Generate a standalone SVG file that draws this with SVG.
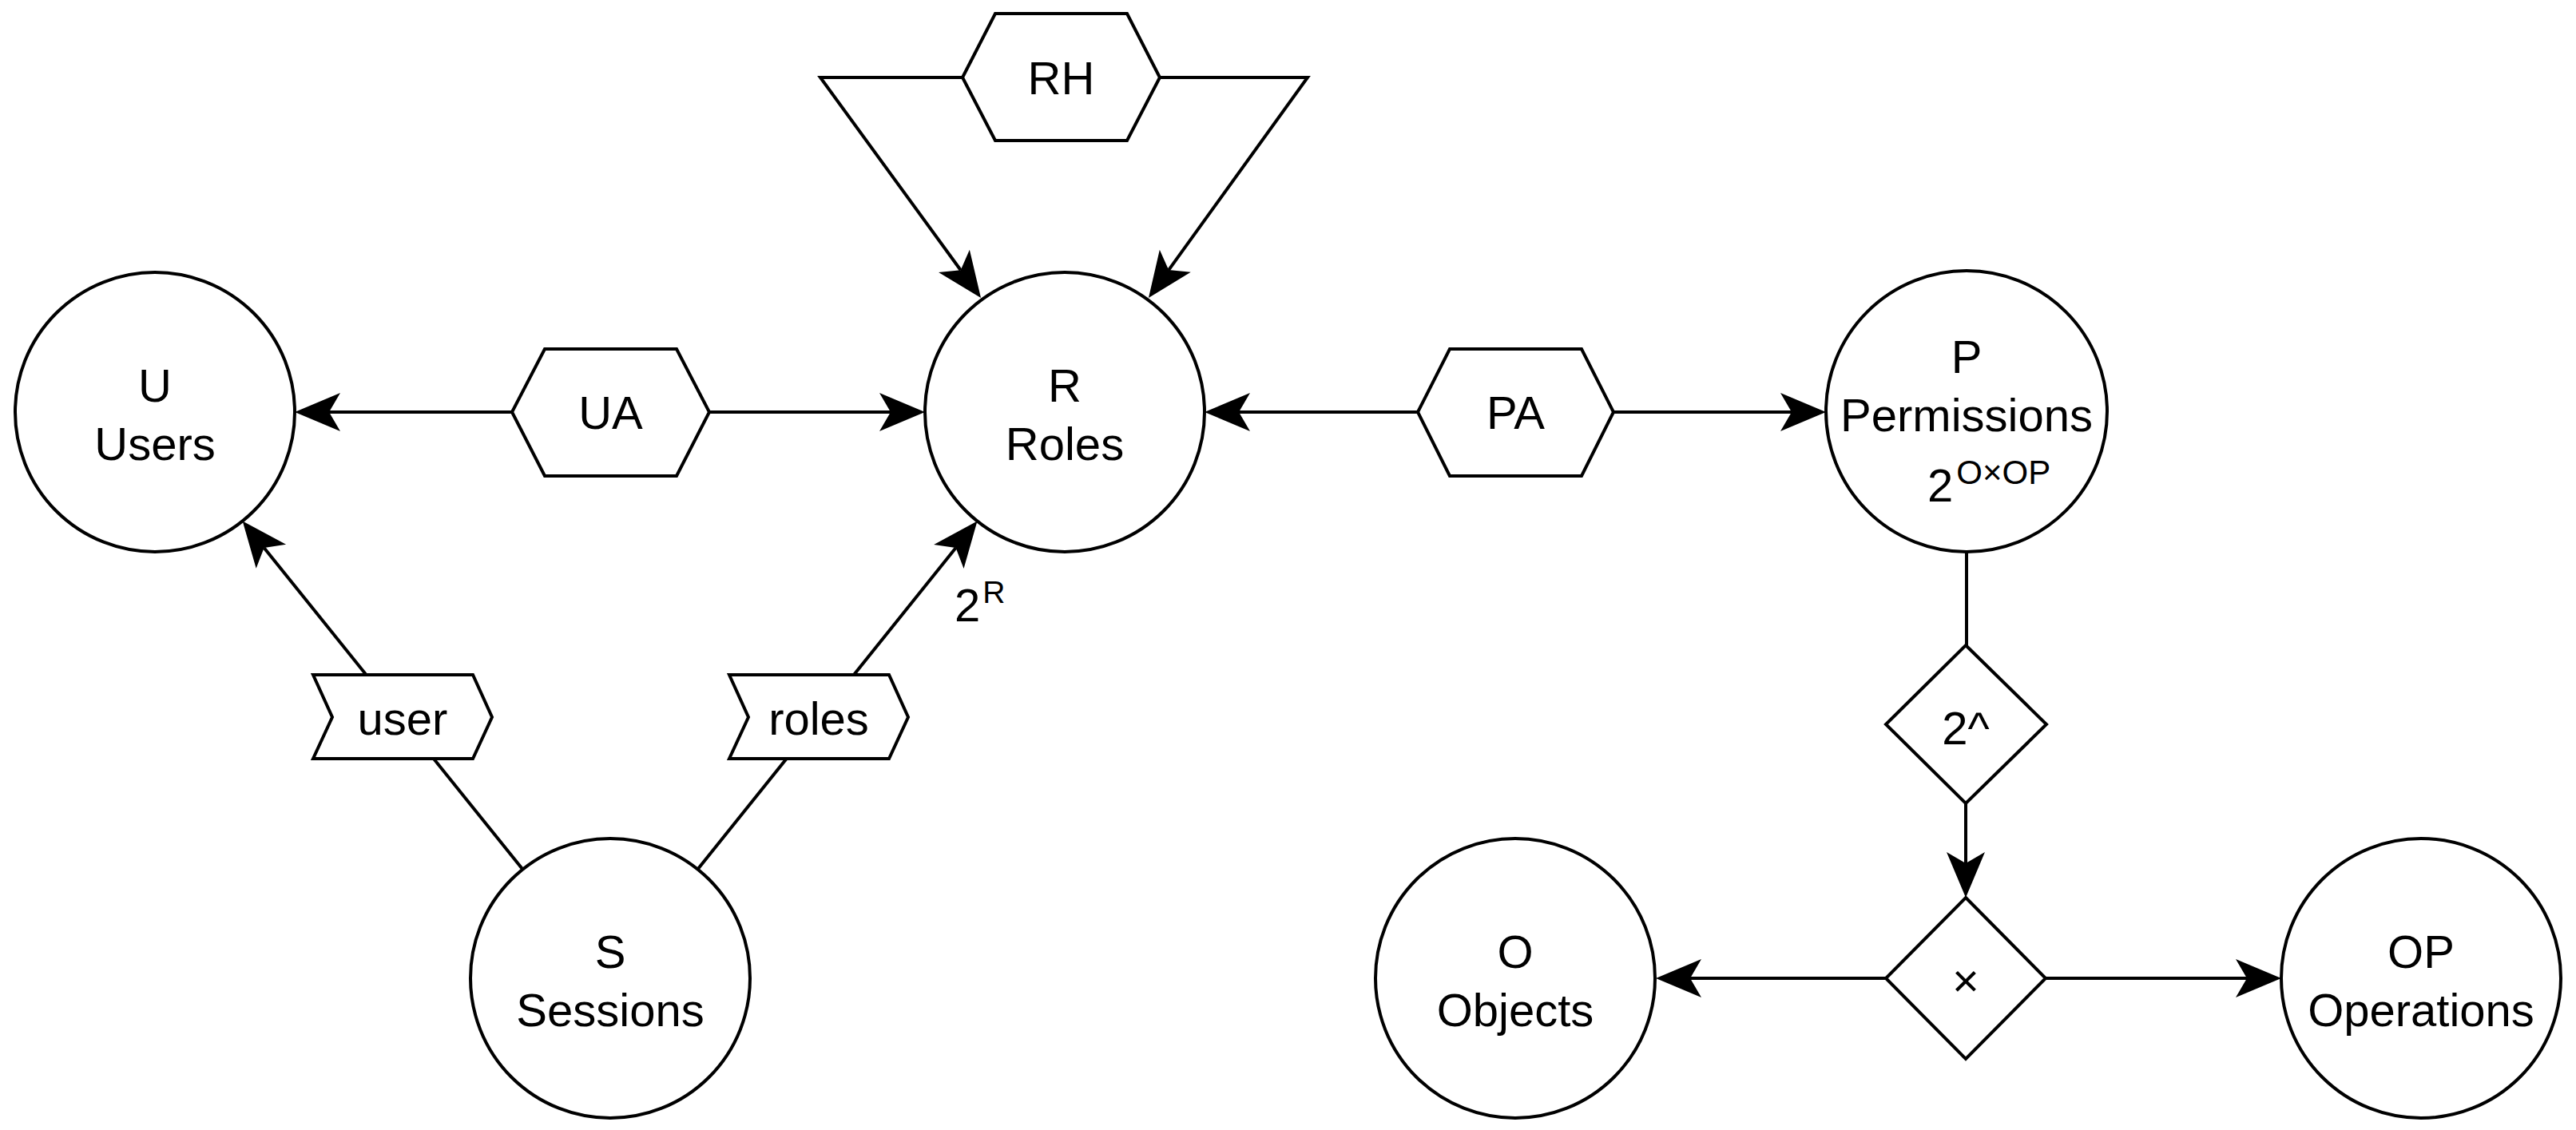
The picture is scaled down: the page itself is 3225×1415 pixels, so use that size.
<svg xmlns="http://www.w3.org/2000/svg" width="3225" height="1415" viewBox="0 0 3225 1415">
<style>
.shape{fill:#ffffff;stroke:#000000;stroke-width:4;stroke-linejoin:miter}
.edge{fill:none;stroke:#000000;stroke-width:4}
.arrow{marker-end:url(#arr)}
text{font-family:"Liberation Sans",Arial,Helvetica,sans-serif;font-size:58px;fill:#000000;text-anchor:middle}
.sup{font-size:42px}
</style>
<defs>
<marker id="arr" markerUnits="userSpaceOnUse" viewBox="-15 -25 60 50" markerWidth="60" markerHeight="50" refX="0" refY="0" orient="auto" overflow="visible">
<path d="M43,0 L-14,-24 L0,0 L-14,24 Z" fill="#000000" stroke="none"/>
</marker>
</defs>
<rect width="3225" height="1415" fill="#ffffff"/>

<g id="node-U"><circle class="shape" cx="194" cy="516" r="175"/><text x="194" y="503">U</text><text x="194" y="576">Users</text></g>
<g id="node-R"><circle class="shape" cx="1333" cy="516" r="175"/><text x="1333" y="503">R</text><text x="1333" y="576">Roles</text></g>
<g id="node-P"><circle class="shape" cx="2462" cy="515" r="176"/><text x="2462" y="467">P</text><text x="2462" y="540">Permissions</text><text x="2413" y="628" style="text-anchor:start">2<tspan class="sup" dx="4" dy="-22">O×OP</tspan></text></g>
<g id="node-S"><circle class="shape" cx="764" cy="1225" r="175"/><text x="764" y="1212">S</text><text x="764" y="1285">Sessions</text></g>
<g id="node-O"><circle class="shape" cx="1897" cy="1225" r="175"/><text x="1897" y="1212">O</text><text x="1897" y="1285">Objects</text></g>
<g id="node-OP"><circle class="shape" cx="3031" cy="1225" r="175"/><text x="3031" y="1212">OP</text><text x="3031" y="1285">Operations</text></g>

<g id="connectors">
<path class="edge arrow" d="M641,516 L412,516"/>
<path class="edge arrow" d="M888,516 L1115,516"/>
<path class="edge arrow" d="M1775,516 L1551,516"/>
<path class="edge arrow" d="M2020,516 L2243,516"/>
<path class="edge arrow" d="M1205,97 L1027,97 L1202.7,338.2"/>
<path class="edge arrow" d="M1452,97 L1637,97 L1463.1,338.1"/>
<path class="edge arrow" d="M654.3,1088.6 L330.6,685.9"/>
<path class="edge arrow" d="M873.5,1088.5 L1196.6,686"/>
<path class="edge" d="M2462,691 L2462,808"/>
<path class="edge arrow" d="M2461,1006 L2461,1081"/>
<path class="edge arrow" d="M2361,1225 L2116,1225"/>
<path class="edge arrow" d="M2561,1225 L2813,1225"/>
<text x="1195" y="778" style="text-anchor:start">2<tspan style="font-size:39px" dx="3" dy="-23">R</tspan></text>
</g>

<g id="node-UA"><polygon class="shape" points="641,516 682,437 847,437 888,516 847,596 682,596"/><text x="764.5" y="537">UA</text></g>
<g id="node-PA"><polygon class="shape" points="1775,516 1815,437 1980,437 2020,516 1980,596 1815,596"/><text x="1897.5" y="537">PA</text></g>
<g id="node-RH"><polygon class="shape" points="1205,97 1246,17 1411,17 1452,97 1411,176 1246,176"/><text x="1328.5" y="118">RH</text></g>
<g id="node-user"><polygon class="shape" points="392,845 592,845 616,898 592,950 392,950 416,898"/><text x="504" y="920">user</text></g>
<g id="node-roles"><polygon class="shape" points="913,845 1113,845 1137,898 1113,950 913,950 937,898"/><text x="1025" y="920">roles</text></g>
<g id="node-pow"><polygon class="shape" points="2461,808 2562,907 2461,1006 2361,907"/><text x="2461" y="932">2^</text></g>
<g id="node-times"><polygon class="shape" points="2461,1124 2561,1225 2461,1326 2361,1225"/><text x="2461" y="1248">×</text></g>
</svg>
